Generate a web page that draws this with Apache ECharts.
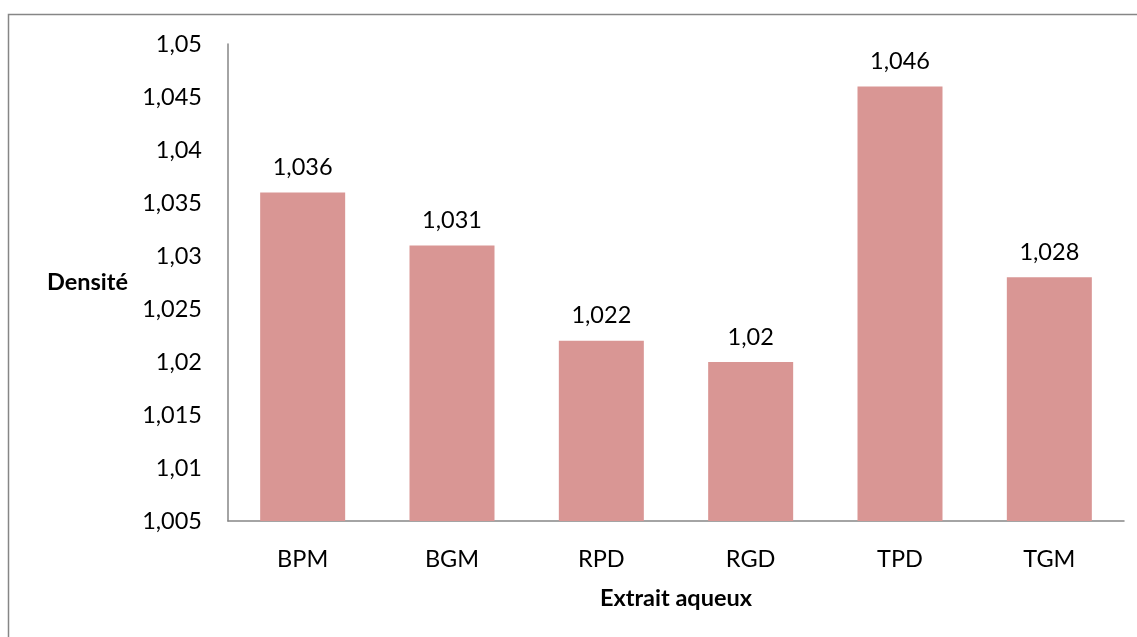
<!DOCTYPE html>
<html>
<head>
<meta charset="utf-8">
<script src="https://cdn.jsdelivr.net/npm/echarts@6/dist/echarts.min.js"></script>
<style>
  html, body { margin: 0; padding: 0; background: #fff; }
  #chart { width: 1137px; height: 637px; }
</style>
</head>
<body>
<div id="chart"></div>
<script>
// Densité des extraits aqueux
const categories = ['BPM', 'BGM', 'RPD', 'RGD', 'TPD', 'TGM'];
const densite = [1.036, 1.031, 1.022, 1.020, 1.046, 1.028];
const yMin = 1.005;
const yMax = 1.05;
const yStep = 0.005;

const FONT = 'Lato, "Open Sans", sans-serif';
const FS = 23.5;

// French decimal notation: comma separator, no trailing zeros
function frNum(v) {
  return String(Number(Number(v).toFixed(3))).replace('.', ',');
}

const chart = echarts.init(document.getElementById('chart'), null, { renderer: 'canvas' });

chart.setOption({
  backgroundColor: '#ffffff',
  animation: false,
  graphic: [{
    type: 'rect',
    shape: { x: 8.5, y: 14.5, width: 1140, height: 640 },
    style: { fill: 'none', stroke: '#868686', lineWidth: 1.5 },
    silent: true,
    z: 0
  }],
  grid: { left: 228, right: 13, top: 44, bottom: 116, containLabel: false },
  xAxis: {
    type: 'category',
    data: categories,
    axisLine: { show: true, lineStyle: { color: '#868686', width: 1.5 } },
    axisTick: { show: false },
    axisLabel: { color: '#000', fontFamily: FONT, fontSize: FS, margin: 26 },
    name: 'Extrait aqueux',
    nameLocation: 'middle',
    nameGap: 65,
    nameTextStyle: { color: '#000', fontFamily: FONT, fontSize: FS, fontWeight: 'bold' }
  },
  yAxis: {
    type: 'value',
    min: yMin,
    max: yMax,
    interval: yStep,
    axisLine: { show: true, lineStyle: { color: '#868686', width: 1.5 } },
    axisTick: { show: false },
    splitLine: { show: false },
    axisLabel: {
      color: '#000', fontFamily: FONT, fontSize: FS, margin: 26,
      formatter: frNum
    },
    name: 'Densité',
    nameLocation: 'middle',
    nameRotate: 0,
    nameGap: 100,
    nameTextStyle: { color: '#000', fontFamily: FONT, fontSize: FS, fontWeight: 'bold', align: 'right' }
  },
  series: [{
    type: 'bar',
    data: densite,
    barWidth: 85,
    itemStyle: { color: '#D99694' },
    label: {
      show: true,
      position: 'top',
      distance: 13,
      color: '#000',
      fontFamily: FONT,
      fontSize: FS,
      formatter: p => frNum(p.value)
    }
  }]
});
</script>
</body>
</html>
